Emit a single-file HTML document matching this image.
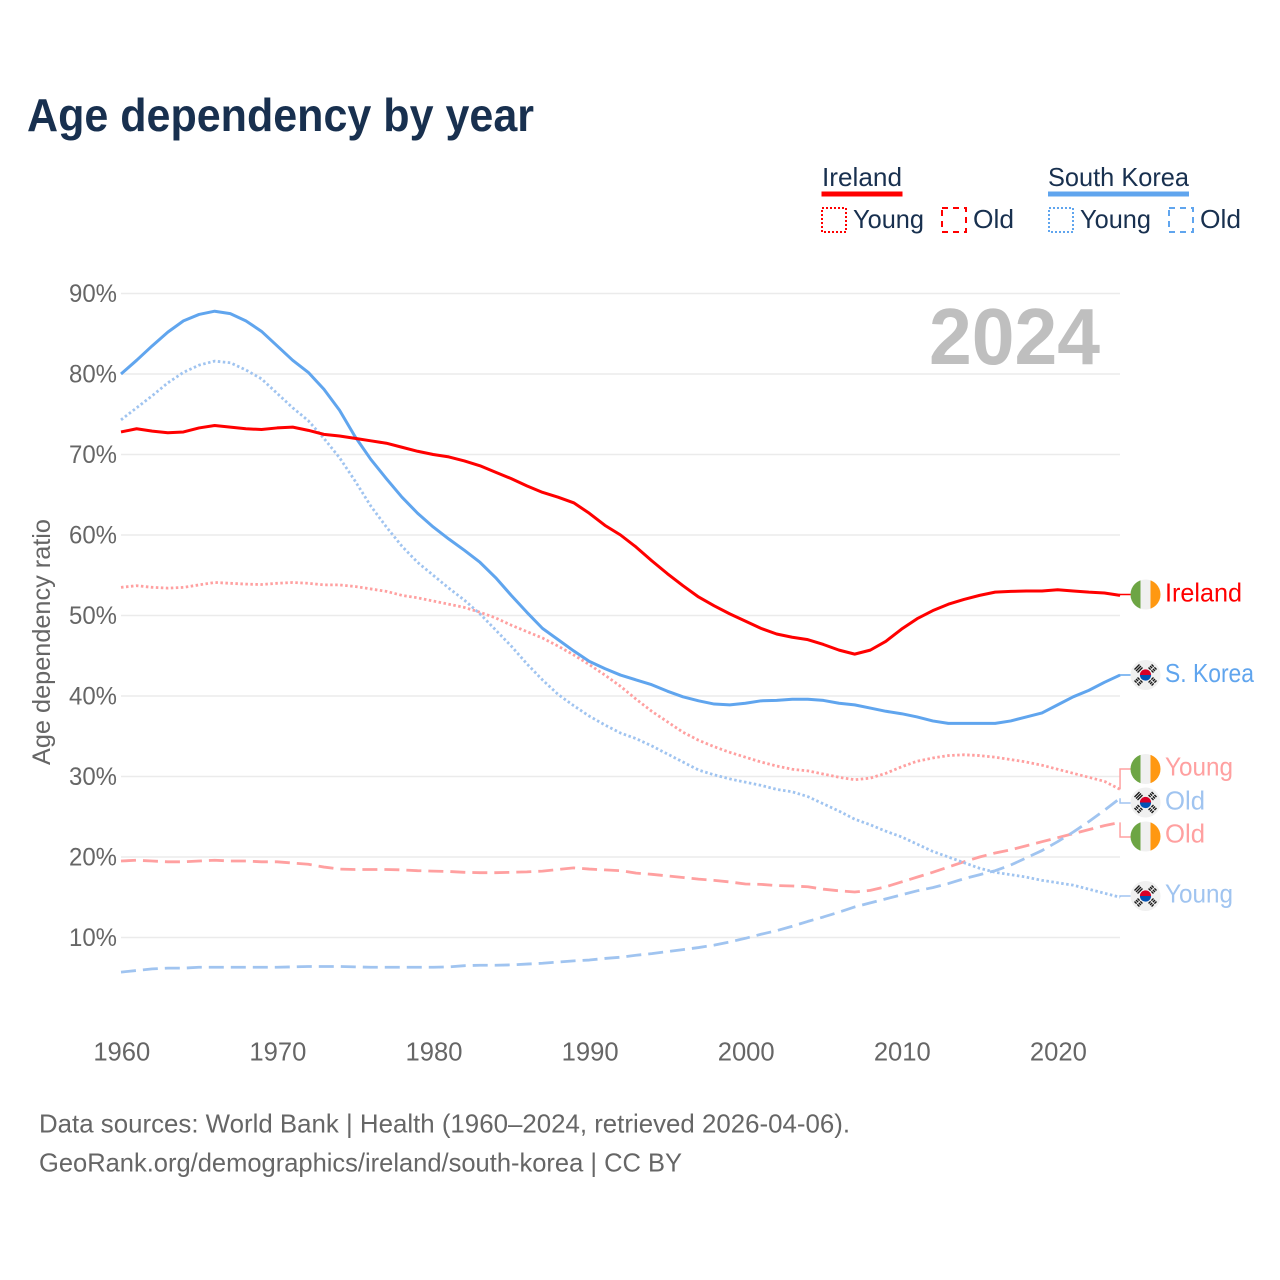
<!DOCTYPE html>
<html lang="en">
<head>
<meta charset="utf-8">
<title>Age dependency by year</title>
<style>
html,body{margin:0;padding:0;background:#fff;width:1280px;height:1280px;overflow:hidden}
svg{display:block;font-family:"Liberation Sans",sans-serif}
</style>
</head>
<body>
<svg id="chart" width="1280" height="1280" viewBox="0 0 1280 1280" xmlns="http://www.w3.org/2000/svg">
  <defs>
    <clipPath id="flag-clip"><circle cx="0" cy="0" r="15"/></clipPath>
    <g id="flag-ie" clip-path="url(#flag-clip)">
      <rect x="-15" y="-15" width="30" height="30" fill="#f0f0f0"/>
      <rect x="-15" y="-15" width="10" height="30" fill="#6da544"/>
      <rect x="5" y="-15" width="10" height="30" fill="#ff9811"/>
    </g>
    <g id="flag-kr" clip-path="url(#flag-clip)">
      <rect x="-15" y="-15" width="30" height="30" fill="#f0f0f0"/>
      <path d="M-5.6 0A5.6 5.6 0 0 1 5.6 0Z" fill="#d80027"/>
      <path d="M-5.6 0A5.6 5.6 0 0 0 5.6 0Z" fill="#0052b4"/>
      <g stroke="#1a1a1a" stroke-width="1.4">
        <path d="M-11 -5.5L-6 -10.5M-9.5 -4L-4.5 -9M-8 -2.5L-3 -7.5"/>
        <path d="M11 -5.5L6 -10.5M9.5 -4L4.5 -9M8 -2.5L3 -7.5" stroke-dasharray="3 1"/>
        <path d="M-11 5.5L-6 10.5M-9.5 4L-4.5 9M-8 2.5L-3 7.5" stroke-dasharray="3 1"/>
        <path d="M11 5.5L6 10.5M9.5 4L4.5 9M8 2.5L3 7.5" stroke-dasharray="3 1"/>
      </g>
    </g>
  </defs>

  <text x="27" y="131" font-size="46" font-weight="700" fill="#18304f" textLength="507" lengthAdjust="spacingAndGlyphs">Age dependency by year</text>

  <g fill="#18304f" font-size="26">
    <text x="822" y="186" textLength="80" lengthAdjust="spacingAndGlyphs">Ireland</text>
    <rect x="821.5" y="191.5" width="81" height="5" fill="#ff0000"/>
    <rect x="822" y="208" width="24" height="24" fill="none" stroke="#ff0000" stroke-width="2" stroke-dasharray="2 2"/>
    <text x="853" y="228" textLength="71" lengthAdjust="spacingAndGlyphs">Young</text>
    <rect x="942" y="208" width="24" height="24" fill="none" stroke="#ff0000" stroke-width="2" stroke-dasharray="6 5"/>
    <text x="973" y="228" textLength="41" lengthAdjust="spacingAndGlyphs">Old</text>
    <text x="1048" y="186" textLength="141" lengthAdjust="spacingAndGlyphs">South Korea</text>
    <rect x="1048" y="191.5" width="141" height="5" fill="#60a5ee"/>
    <rect x="1049" y="208" width="24" height="24" fill="none" stroke="#60a5ee" stroke-width="2" stroke-dasharray="2 2"/>
    <text x="1080" y="228" textLength="71" lengthAdjust="spacingAndGlyphs">Young</text>
    <rect x="1169" y="208" width="24" height="24" fill="none" stroke="#60a5ee" stroke-width="2" stroke-dasharray="6 5"/>
    <text x="1200" y="228" textLength="41" lengthAdjust="spacingAndGlyphs">Old</text>
  </g>

  <g id="grid"></g>
  <g id="y-ticks"></g>
  <g id="x-ticks"></g>

  <text x="929" y="364" font-size="80" font-weight="700" fill="#bfbfbf" textLength="171" lengthAdjust="spacingAndGlyphs">2024</text>

  <text transform="translate(50 765) rotate(-90)" font-size="25" fill="#666666" textLength="246" lengthAdjust="spacingAndGlyphs">Age dependency ratio</text>

  <g id="series"></g>

  <g font-size="26">
    <use href="#flag-ie" x="1145.5" y="594.5"/>
    <text x="1165" y="601.5" fill="#ff0000" textLength="77" lengthAdjust="spacingAndGlyphs">Ireland</text>
    <use href="#flag-kr" x="1145.5" y="675"/>
    <text x="1165" y="682" fill="#60a5ee" textLength="89" lengthAdjust="spacingAndGlyphs">S. Korea</text>
    <use href="#flag-ie" x="1145.5" y="769"/>
    <text x="1165" y="775.5" fill="#ffa0a0" textLength="68" lengthAdjust="spacingAndGlyphs">Young</text>
    <use href="#flag-kr" x="1145.5" y="802.5"/>
    <text x="1165" y="809.5" fill="#a0c4f0" textLength="40" lengthAdjust="spacingAndGlyphs">Old</text>
    <use href="#flag-ie" x="1145.5" y="836.5"/>
    <text x="1165" y="842.5" fill="#ffa0a0" textLength="40" lengthAdjust="spacingAndGlyphs">Old</text>
    <use href="#flag-kr" x="1145.5" y="896"/>
    <text x="1165" y="902.5" fill="#a0c4f0" textLength="68" lengthAdjust="spacingAndGlyphs">Young</text>
  </g>

  <text x="39" y="1132.5" font-size="26" fill="#666666" textLength="811" lengthAdjust="spacingAndGlyphs">Data sources: World Bank | Health (1960–2024, retrieved 2026-04-06).</text>
  <text x="39" y="1171.5" font-size="26" fill="#666666" textLength="643" lengthAdjust="spacingAndGlyphs">GeoRank.org/demographics/ireland/south-korea | CC BY</text>

<script>
const firstYear = 1960;
const xTickYears = [1960, 1970, 1980, 1990, 2000, 2010, 2020];
const yTickValues = [10, 20, 30, 40, 50, 60, 70, 80, 90];

const irelandTotal = [72.8,73.2,72.9,72.7,72.8,73.3,73.6,73.4,73.2,73.1,73.3,73.4,73.0,72.5,72.3,72.0,71.7,71.4,70.9,70.4,70.0,69.7,69.2,68.6,67.8,67.0,66.1,65.3,64.7,64.0,62.7,61.2,60.0,58.5,56.8,55.2,53.7,52.3,51.2,50.2,49.3,48.4,47.7,47.3,47.0,46.4,45.7,45.2,45.7,46.8,48.3,49.6,50.6,51.4,52.0,52.5,52.9,53.0,53.05,53.05,53.2,53.05,52.9,52.8,52.5];
const koreaTotal = [80.0,81.7,83.5,85.2,86.6,87.4,87.8,87.5,86.6,85.3,83.5,81.7,80.2,78.1,75.5,72.2,69.4,67.0,64.7,62.7,61.0,59.5,58.1,56.6,54.7,52.5,50.4,48.4,47.0,45.6,44.3,43.4,42.6,42.0,41.4,40.6,39.9,39.4,39.0,38.9,39.1,39.4,39.45,39.6,39.6,39.45,39.1,38.9,38.5,38.1,37.8,37.4,36.9,36.6,36.6,36.6,36.6,36.9,37.4,37.9,38.9,39.9,40.7,41.7,42.6];
const irelandYoung = [53.5,53.7,53.5,53.4,53.5,53.8,54.1,54.0,53.9,53.85,54.0,54.1,54.0,53.8,53.8,53.6,53.3,53.0,52.5,52.2,51.8,51.4,51.0,50.4,49.7,48.8,48.0,47.2,46.2,45.1,43.9,42.6,41.2,39.6,38.1,36.8,35.5,34.5,33.7,33.0,32.4,31.8,31.3,30.9,30.7,30.3,29.9,29.6,29.8,30.4,31.2,31.9,32.3,32.6,32.7,32.6,32.4,32.1,31.8,31.4,30.9,30.4,29.9,29.4,28.4];
const koreaYoung = [74.3,75.8,77.3,78.9,80.2,81.1,81.6,81.4,80.5,79.4,77.6,75.8,74.2,72.0,69.6,66.7,63.6,61.0,58.6,56.6,55.0,53.4,51.9,50.2,48.2,46.2,44.0,42.0,40.2,38.8,37.5,36.4,35.4,34.7,33.8,32.8,31.8,30.8,30.2,29.7,29.3,28.9,28.4,28.1,27.5,26.6,25.7,24.7,24.0,23.2,22.5,21.6,20.7,20.0,19.3,18.6,18.1,17.8,17.5,17.1,16.8,16.5,16.0,15.5,15.0];
const irelandOld = [19.5,19.6,19.5,19.4,19.4,19.5,19.6,19.5,19.5,19.4,19.4,19.25,19.1,18.75,18.5,18.45,18.45,18.45,18.4,18.3,18.25,18.2,18.1,18.05,18.05,18.1,18.15,18.25,18.45,18.65,18.5,18.4,18.3,18.0,17.85,17.65,17.45,17.25,17.1,16.9,16.65,16.6,16.45,16.4,16.3,16.0,15.8,15.65,15.85,16.3,16.9,17.5,18.1,18.75,19.4,20.0,20.5,20.9,21.4,21.9,22.4,22.9,23.4,23.9,24.3];
const koreaOld = [5.7,5.9,6.1,6.2,6.2,6.3,6.3,6.3,6.3,6.3,6.3,6.35,6.4,6.4,6.4,6.35,6.3,6.3,6.3,6.3,6.3,6.35,6.5,6.55,6.55,6.6,6.7,6.8,6.95,7.1,7.2,7.4,7.55,7.8,8.0,8.25,8.5,8.75,9.05,9.45,9.9,10.4,10.85,11.4,12.0,12.55,13.15,13.8,14.3,14.8,15.3,15.8,16.2,16.7,17.3,17.8,18.3,19.0,19.9,20.8,21.9,23.1,24.4,25.8,27.3];

const NS = 'http://www.w3.org/2000/svg';
function xScale(year) { return 121 + (year - firstYear) * 15.61; }
function yScale(value) { return 1018 - value * 8.05; }

const gridGroup = document.getElementById('grid');


const yTickGroup = document.getElementById('y-ticks');


const xTickGroup = document.getElementById('x-ticks');


const seriesGroup = document.getElementById('series');



yTickValues.forEach(function (v) {
  const line = document.createElementNS(NS, 'line');
  
  
  line.setAttribute('x1', 121);
  line.setAttribute('x2', 1120);
  line.setAttribute('y1', yScale(v));
  line.setAttribute('y2', yScale(v));
  line.setAttribute('stroke', '#ebebeb');
  line.setAttribute('stroke-width', 1.5);
  gridGroup.appendChild(line);

  const label = document.createElementNS(NS, 'text');
  
  
  label.setAttribute('x', 117);
  label.setAttribute('y', yScale(v) + 8.5);
  label.setAttribute('text-anchor', 'end');
  label.setAttribute('font-size', 25);
  label.setAttribute('fill', '#666666');
  label.setAttribute('textLength', 48);
  label.setAttribute('lengthAdjust', 'spacingAndGlyphs');
  label.textContent = v + '%';
  yTickGroup.appendChild(label);
});

xTickYears.forEach(function (year) {
  const label = document.createElementNS(NS, 'text');
  
  
  label.setAttribute('x', xScale(year) + 0.8);
  label.setAttribute('y', 1060.5);
  label.setAttribute('text-anchor', 'middle');
  label.setAttribute('font-size', 25.6);
  label.setAttribute('fill', '#666666');
  label.textContent = year;
  xTickGroup.appendChild(label);
});

function drawLine(values, color, width, dash, name) {
  const path = document.createElementNS(NS, 'polyline');
  
  
  const pts = values.map(function (v, i) {
    return xScale(firstYear + i).toFixed(2) + ',' + yScale(v).toFixed(2);
  });
  path.setAttribute('points', pts.join(' '));
  path.setAttribute('fill', 'none');
  path.setAttribute('stroke', color);
  path.setAttribute('stroke-width', width);
  path.setAttribute('stroke-linejoin', 'round');
  if (dash) path.setAttribute('stroke-dasharray', dash);
  seriesGroup.appendChild(path);
}

function drawConnector(values, labelY, color, name) {
  const path = document.createElementNS(NS, 'polyline');
  
  
  const endX = xScale(firstYear + values.length - 1);
  const endY = yScale(values[values.length - 1]);
  path.setAttribute('points', endX + ',' + endY + ' ' + endX + ',' + labelY + ' 1131,' + labelY);
  path.setAttribute('fill', 'none');
  path.setAttribute('stroke', color);
  path.setAttribute('stroke-width', 1.5);
  seriesGroup.appendChild(path);
}

drawLine(irelandOld, '#ffa0a0', 2.8, '15 7', 'ireland-old-line');
drawLine(koreaOld, '#a0c4f0', 2.8, '15 7', 'south-korea-old-line');
drawLine(irelandYoung, '#ffa0a0', 2.8, '2.5 2.5', 'ireland-young-line');
drawLine(koreaYoung, '#a0c4f0', 2.8, '2.5 2.5', 'south-korea-young-line');
drawLine(koreaTotal, '#60a5ee', 3, '', 'south-korea-total-line');
drawLine(irelandTotal, '#ff0000', 3, '', 'ireland-total-line');

drawConnector(irelandTotal, 594.5, '#ff0000', 'ireland-total-connector');
drawConnector(koreaTotal, 675, '#60a5ee', 'south-korea-total-connector');
drawConnector(irelandYoung, 769, '#ffa0a0', 'ireland-young-connector');
drawConnector(koreaOld, 803, '#a0c4f0', 'south-korea-old-connector');
drawConnector(irelandOld, 837, '#ffa0a0', 'ireland-old-connector');
drawConnector(koreaYoung, 896, '#a0c4f0', 'south-korea-young-connector');
</script>
</svg>
</body>
</html>
